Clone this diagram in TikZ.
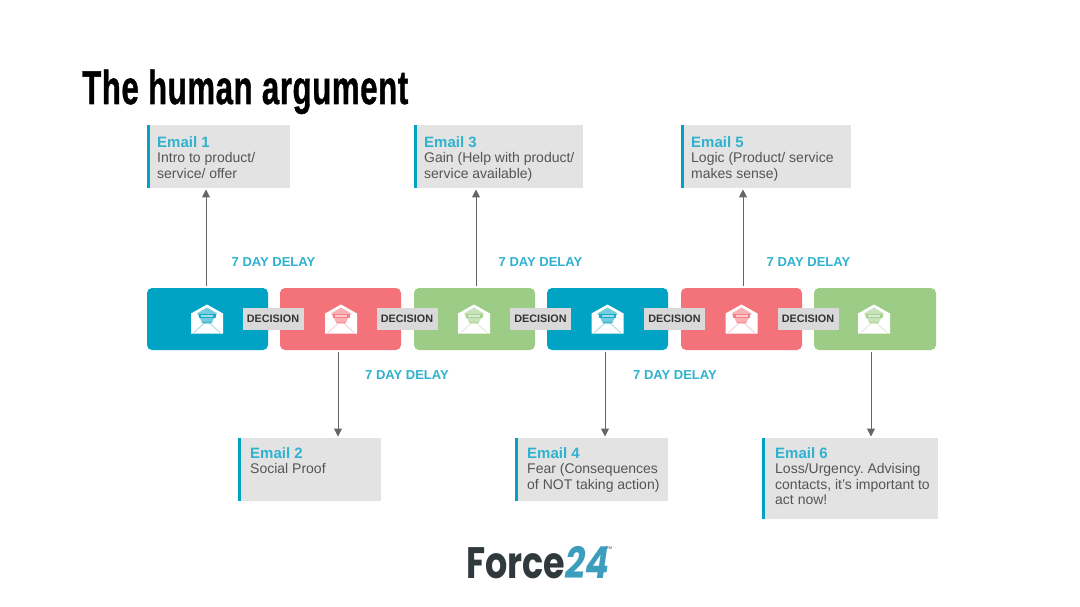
\documentclass[tikz,border=0pt]{standalone}
\usepackage{fontspec}
\setmainfont{Liberation Sans}
\newfontfamily\titlefont[BoldFeatures={FakeBold=1.2},LetterSpace=2]{Liberation Sans}
\newfontfamily\logofont{Poppins}
\definecolor{cblue}{HTML}{00A3C4}
\definecolor{cred}{HTML}{F4737B}
\definecolor{cgreen}{HTML}{9CCC85}
\definecolor{cgrey}{HTML}{E3E3E3}
\definecolor{cdec}{HTML}{D9D9D9}
\definecolor{ctitle}{HTML}{2EB2CF}
\definecolor{ctext}{HTML}{555555}
\definecolor{carrow}{HTML}{666666}
\definecolor{clogo}{HTML}{30393C}
\definecolor{clogob}{HTML}{3C9DBD}
\usetikzlibrary{arrows.meta}
\tikzset{
  flowbox/.style={fill=#1,rounded corners=5pt,minimum height=62pt,inner sep=0pt,outer sep=0pt,draw=none},
  decbox/.style={fill=cdec,minimum width=61pt,minimum height=22pt,inner sep=0pt,font=\fontsize{10.8}{10}\selectfont\bfseries,text=black!80},
  delaylabel/.style={font=\fontsize{13}{14}\selectfont\bfseries,text=ctitle,inner sep=0pt},
  mailbox/.style={fill=cgrey,inner sep=0pt,outer sep=0pt,anchor=north west},
  mailtext/.style={anchor=north west,inner sep=0pt,align=left,text=ctext,font=\fontsize{14}{15.6}\selectfont\frenchspacing},
  flowarrow/.style={draw=carrow,line width=1pt,-{Triangle[length=8pt,width=8pt]}},
}
\newcommand{\mailhead}[1]{{\fontsize{15}{15.6}\selectfont\bfseries\color{ctitle}#1}}
\newcommand{\envelope}[3]{%
  \begin{scope}[shift={(#1,#2)}]
    \fill[white] (-16,-5) -- (0,-14) -- (16,-5) -- (16,15) -- (-16,15) -- cycle;
    \fill[#3,opacity=.55] (-10,-5) -- (0,-11) -- (10,-5) -- (4,5) -- (-4,5) -- cycle;
    \fill[#3,opacity=.8] (-8.5,-5) rectangle (8.5,-0.5);
    \fill[white,opacity=.6] (-6,-3.4) rectangle (6,-2);
    \fill[#3,opacity=.4] (-6,3) -- (6,3) -- (5,4.5) -- (-5,4.5) -- cycle;
    \draw[#3,opacity=.4,line width=.8pt] (-13,14) -- (-3,5) (13,14) -- (3,5);
  \end{scope}}
\begin{document}
\begin{tikzpicture}[x=1pt,y=-1pt]
\useasboundingbox (0,0) rectangle (1080,607);
\fill[white] (0,0) rectangle (1080,607);
% title
\node[anchor=base west,inner sep=0pt] (title) at (82,104) {\resizebox{326pt}{\height}{\fontsize{47.5}{47.5}\selectfont\titlefont\bfseries The human argument}};
% flow boxes
\node[flowbox=cblue,minimum width=121pt] (b1) at (207.5,319) {};
\node[flowbox=cred,minimum width=121pt] (b2) at (340.5,319) {};
\node[flowbox=cgreen,minimum width=121pt] (b3) at (474.5,319) {};
\node[flowbox=cblue,minimum width=121pt] (b4) at (607.5,319) {};
\node[flowbox=cred,minimum width=121pt] (b5) at (741.5,319) {};
\node[flowbox=cgreen,minimum width=122pt] (b6) at (875,319) {};
\envelope{207}{318.5}{cblue}
\envelope{341}{318.5}{cred}
\envelope{474}{318.5}{cgreen}
\envelope{607.5}{318.5}{cblue}
\envelope{741.5}{318.5}{cred}
\envelope{874}{318.5}{cgreen}
% decisions
\node[decbox] (d1) at (273,318.5) {DECISION};
\node[decbox] (d2) at (407,318.5) {DECISION};
\node[decbox] (d3) at (540.5,318.5) {DECISION};
\node[decbox] (d4) at (674.5,318.5) {DECISION};
\node[decbox] (d5) at (808,318.5) {DECISION};
% delays
\node[delaylabel] (l1) at (273.5,262.5) {7 DAY DELAY};
\node[delaylabel] (l3) at (540.5,262.5) {7 DAY DELAY};
\node[delaylabel] (l5) at (808.5,262.5) {7 DAY DELAY};
\node[delaylabel] (l2) at (407,375.5) {7 DAY DELAY};
\node[delaylabel] (l4) at (675,375.5) {7 DAY DELAY};
% email boxes
\node[mailbox,minimum width=143pt,minimum height=63pt] (e1) at (147,125) {};
\node[mailbox,minimum width=169pt,minimum height=63pt] (e3) at (414,125) {};
\node[mailbox,minimum width=170pt,minimum height=63pt] (e5) at (681,125) {};
\node[mailbox,minimum width=143pt,minimum height=63pt] (e2) at (238,438) {};
\node[mailbox,minimum width=153pt,minimum height=63pt] (e4) at (515,438) {};
\node[mailbox,minimum width=176pt,minimum height=81pt] (e6) at (762,438) {};
\foreach \e in {e1,e2,e3,e4,e5,e6}{\fill[cblue] (\e.north west) rectangle ([xshift=3pt]\e.south west);}
\node[mailtext] (t1) at (157,136) {\mailhead{Email 1}\\Intro to product/\\service/ offer};
\node[mailtext] (t3) at (424,136) {\mailhead{Email 3}\\Gain (Help with product/\\service available)};
\node[mailtext] (t5) at (691,136) {\mailhead{Email 5}\\Logic (Product/ service\\makes sense)};
\node[mailtext] (t2) at (250,447) {\mailhead{Email 2}\\Social Proof};
\node[mailtext] (t4) at (527,447) {\mailhead{Email 4}\\Fear (Consequences\\of NOT taking action)};
\node[mailtext] (t6) at (775,447) {\mailhead{Email 6}\\Loss/Urgency. Advising\\contacts, it's important to\\act now!};
% arrows
\coordinate (a1) at (206,286);
\coordinate (a3) at (476,286);
\coordinate (a5) at (743,286);
\coordinate (a2) at (338,352);
\coordinate (a4) at (605,352);
\coordinate (a6) at (871,352);
\draw[flowarrow,shorten >=1.5pt] (a1) -- (a1 |- e1.south);
\draw[flowarrow,shorten >=1.5pt] (a3) -- (a3 |- e3.south);
\draw[flowarrow,shorten >=1.5pt] (a5) -- (a5 |- e5.south);
\draw[flowarrow,shorten >=1.5pt] (a2) -- (a2 |- e2.north);
\draw[flowarrow,shorten >=1.5pt] (a4) -- (a4 |- e4.north);
\draw[flowarrow,shorten >=1.5pt] (a6) -- (a6 |- e6.north);
% logo
\node[anchor=base west,inner sep=0pt,text=clogo] (logoa) at (466,578) {\resizebox{99pt}{\height}{\fontsize{44}{44}\selectfont\logofont\bfseries Force}};
\node[anchor=base west,inner sep=0pt,text=clogob] (logob) at (logoa.base east) {\resizebox{44pt}{\height}{\fontsize{44}{44}\selectfont\logofont\bfseries\itshape 24}};
\node[anchor=north west,inner sep=0pt,text=clogo] (logoc) at (606,547) {\fontsize{4}{4}\selectfont TM};
\end{tikzpicture}
\end{document}
